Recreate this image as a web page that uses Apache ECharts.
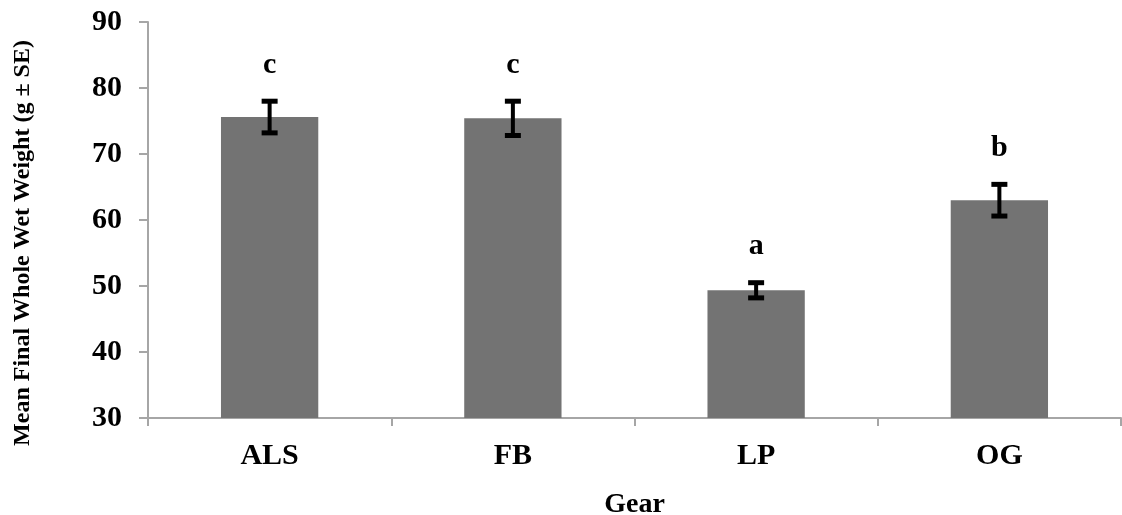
<!DOCTYPE html>
<html>
<head>
<meta charset="utf-8">
<script src="https://cdn.jsdelivr.net/npm/echarts@6/dist/echarts.min.js"></script>
<style>
html,body{margin:0;padding:0;background:#fff;}
#chart{width:1122px;height:515px;}
</style>
</head>
<body>
<div id="chart"></div>
<script>
var categories = ['ALS', 'FB', 'LP', 'OG'];
var meanWeight = [75.6, 75.4, 49.35, 63.0];
var seWeight = [2.4, 2.6, 1.15, 2.4];
var groupLetters = ['c', 'c', 'a', 'b'];
var yTicks = [30, 40, 50, 60, 70, 80, 90];
var yTitle = 'Mean Final Whole Wet Weight (g \u00b1 SE)';
var xTitle = 'Gear';

var FONT = '"Liberation Serif", "Times New Roman", serif';
var chart = echarts.init(document.getElementById('chart'), null, {renderer: 'canvas'});

var errData = categories.map(function (c, i) {
  return [i, meanWeight[i] - seWeight[i], meanWeight[i] + seWeight[i], groupLetters[i]];
});

chart.setOption({
  animation: false,
  backgroundColor: '#ffffff',
  grid: {left: 148, right: 1, top: 22, bottom: 97, containLabel: false, outerBoundsMode: 'none'},
  graphic: [{
    type: 'text',
    x: 23, y: 243,
    rotation: Math.PI / 2,
    style: {
      text: yTitle, fill: '#000', font: 'bold 24px ' + FONT,
      textAlign: 'center', textVerticalAlign: 'middle'
    }
  }],
  xAxis: {
    type: 'category',
    data: categories,
    name: xTitle,
    nameLocation: 'middle',
    nameGap: 73,
    nameTextStyle: {fontFamily: FONT, fontWeight: 'bold', fontSize: 28, color: '#000'},
    axisLine: {lineStyle: {color: '#a6a6a6', width: 2}},
    axisTick: {show: true, alignWithLabel: false, length: 8, lineStyle: {color: '#a6a6a6', width: 2}},
    axisLabel: {fontFamily: FONT, fontWeight: 'bold', fontSize: 30, color: '#000', margin: 23}
  },
  yAxis: {
    type: 'value',
    min: 30,
    max: 90,
    interval: 10,
    axisLine: {show: true, lineStyle: {color: '#a6a6a6', width: 2}},
    axisTick: {show: true, length: 9, lineStyle: {color: '#a6a6a6', width: 2}},
    splitLine: {show: false},
    axisLabel: {
      fontFamily: FONT, fontWeight: 'bold', fontSize: 30, color: '#000', margin: 26,
      formatter: function (v) { return yTicks.indexOf(v) >= 0 ? String(v) : ''; }
    }
  },
  series: [
    {
      type: 'bar',
      data: meanWeight,
      barWidth: '40%',
      itemStyle: {color: '#737373'},
      silent: true
    },
    {
      type: 'custom',
      data: errData,
      z: 10,
      renderItem: function (params, api) {
        var x = api.value(0);
        var lo = api.coord([x, api.value(1)]);
        var hi = api.coord([x, api.value(2)]);
        var half = 8;
        var st = {stroke: '#000', lineWidth: 4};
        var cap = {stroke: '#000', lineWidth: 5};
        return {
          type: 'group',
          children: [
            {type: 'line', shape: {x1: hi[0], y1: hi[1], x2: lo[0], y2: lo[1]}, style: st},
            {type: 'line', shape: {x1: hi[0] - half, y1: hi[1], x2: hi[0] + half, y2: hi[1]}, style: cap},
            {type: 'line', shape: {x1: lo[0] - half, y1: lo[1], x2: lo[0] + half, y2: lo[1]}, style: cap},
            {type: 'text', x: hi[0], y: hi[1] - 36, style: {
              text: api.value(3), fill: '#000', font: 'bold 30px ' + FONT,
              textAlign: 'center', textVerticalAlign: 'middle'
            }}
          ]
        };
      }
    }
  ]
});
</script>
</body>
</html>
